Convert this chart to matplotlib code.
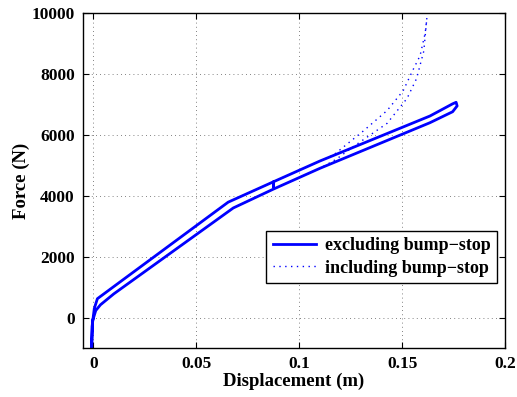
import matplotlib
matplotlib.use("Agg")
import matplotlib.pyplot as plt

# Excluding bump-stop: hysteresis loop (loading branch then unloading branch)
lower_x = [-0.0008, -0.0003, 0.0012, 0.0035, 0.010, 0.0680, 0.0875, 0.110, 0.1635, 0.1745, 0.1767]
lower_f = [-1000, -100, 230, 420, 780, 3600, 4220, 4900, 6400, 6760, 6950]
upper_x = [0.1767, 0.1762, 0.1745, 0.1635, 0.110, 0.0875, 0.0875, 0.0875, 0.0655, 0.010, 0.002, 0.0005, -0.0006, -0.0008]
upper_f = [6950, 7070, 7020, 6620, 5140, 4460, 4300, 4460, 3790, 1020, 620, 300, -300, -1000]

# Including bump-stop: diverging part near the end of the stroke
inc_in_x = [0.110, 0.118, 0.126, 0.1427, 0.1524, 0.157, 0.1605, 0.162]
inc_in_f = [4900, 5200, 5600, 6380, 7200, 7850, 8750, 9840]
inc_out_x = [0.162, 0.1612, 0.1587, 0.155, 0.1505, 0.1427, 0.131, 0.1165, 0.110]
inc_out_f = [9840, 9350, 8600, 8100, 7450, 6800, 6120, 5330, 5140]

xticks = [0, 0.05, 0.1, 0.15, 0.2]
xticklabels = ["0", "0.05", "0.1", "0.15", "0.2"]
yticks = [0, 2000, 4000, 6000, 8000, 10000]
yticklabels = ["0", "2000", "4000", "6000", "8000", "10000"]

plt.rcParams['font.family'] = ['Liberation Serif', 'DejaVu Serif']
plt.rcParams['font.weight'] = 'bold'

fig = plt.figure(figsize=(5.17, 3.97), dpi=100)
ax = fig.add_axes([0.1605, 0.1234, 0.8165, 0.8436])

ex_x = lower_x + upper_x
ex_f = lower_f + upper_f
inc_x = lower_x[:8] + inc_in_x[1:] + inc_out_x[1:] + upper_x[5:]
inc_f = lower_f[:8] + inc_in_f[1:] + inc_out_f[1:] + upper_f[5:]

ax.plot(ex_x, ex_f, color='#0000ff', lw=2.0, solid_joinstyle='round',
        label='excluding bump\u2212stop')
ax.plot(inc_x, inc_f, color='#0000ff', lw=1.0, linestyle=(0, (1, 3.2)),
        label='including bump\u2212stop')

ax.set_xlim(-0.005, 0.2)
ax.set_ylim(-1000, 10000)
ax.set_xticks(xticks)
ax.set_xticklabels(xticklabels)
ax.set_yticks(yticks)
ax.set_yticklabels(yticklabels)
ax.tick_params(direction='in', length=4, width=0.8, top=True, right=True,
               labelsize=12.5, pad=6)
for lab in ax.get_xticklabels() + ax.get_yticklabels():
    lab.set_fontweight('bold')
ax.grid(True, color='0.35', lw=0.6, linestyle=(0, (1, 4)))
for s in ax.spines.values():
    s.set_linewidth(1.0)

ax.set_xlabel('Displacement (m)', fontsize=13.5, fontweight='bold', labelpad=0)
ax.set_ylabel('Force (N)', fontsize=13.5, fontweight='bold', labelpad=1)

leg = ax.legend(loc='lower right', bbox_to_anchor=(0.981, 0.194), fontsize=13,
                frameon=True, fancybox=False, edgecolor='black', framealpha=1,
                handlelength=2.4, borderpad=0.35, labelspacing=0.3,
                handletextpad=0.5, borderaxespad=0)
leg.get_frame().set_linewidth(1.0)
for t in leg.get_texts():
    t.set_fontweight('bold')

fig.savefig('out.png', dpi=100)
